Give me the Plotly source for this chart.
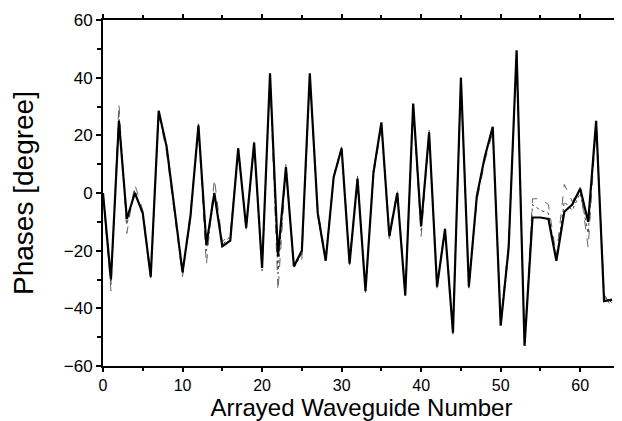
import plotly.graph_objects as go

waveguide = list(range(65))

phase_main = [0, -30, 25, -9, 0, -7, -29, 28.5, 16, -6,
              -27.5, -8, 23.5, -18, 0, -18.5, -16.5, 15.5, -12, 17.5,
              -26, 41.5, -22, 9, -25.5, -20, 41.5, -7, -23.5, 5.5,
              15.5, -24.5, 5, -34, 7, 24.5, -15, 0, -35.5, 31,
              -11.5, 21, -32.5, -12.5, -48.5, 40, -32.5, -1, 12.5, 23,
              -46, -19, 49.5, -53, -8.5, -8.5, -9, -23.5, -6.5, -4,
              1.5, -10, 25, -37.5, -37]

phase_alt1 = [0, -34, 31, -14, 3, -6, -28, 28, 14, -7,
              -29, -6, 22, -25, 5, -17, -14, 14, -11, 16,
              -25, 40, -34, 8, -24, -23, 40, -6, -22, 5,
              15, -23, 4, -33, 6, 23, -14, 1, -34, 30,
              -15, 20, -31, -13, -47, 39, -31, -3, 11, 21,
              -45, -17, 48, -52, -2, -2, -4, -22, 3, -3,
              2, -19, 24, -35, -40]

phase_alt2 = [-1, -32, 27, -11, 1, -8, -30, 27, 17, -5,
              -28, -9, 24, -20, -1, -18, -15, 16, -13, 18,
              -27, 41, -28, 10, -26, -21, 41, -8, -24, 6,
              16, -25, 6, -35, 8, 24, -16, 0, -36, 31,
              -13, 22, -33, -12, -49, 40, -33, -2, 13, 22,
              -46, -20, 49, -53, -4, -6, -7, -23, -3, -6,
              0, -14, 25, -36, -38]

fig = go.Figure()
fig.add_trace(go.Scatter(x=waveguide, y=phase_alt1, mode="lines",
                         line=dict(color="#666666", width=1, dash="dash"), showlegend=False))
fig.add_trace(go.Scatter(x=waveguide, y=phase_alt2, mode="lines",
                         line=dict(color="#444444", width=1, dash="dot"), showlegend=False))
fig.add_trace(go.Scatter(x=waveguide, y=phase_main, mode="lines",
                         line=dict(color="black", width=2.2), showlegend=False))

font_family = "Liberation Sans, Arial, sans-serif"

common = dict(tickmode="linear", tickwidth=1.5, tickcolor="black",
              showline=True, linewidth=2, linecolor="black", showgrid=False,
              zeroline=False, automargin=False, mirror="allticks")

# page body has an 8px margin, so the figure is sized/offset to land where the reference is
fig.update_layout(
    width=614, height=413,
    margin=dict(l=95, r=2, t=12, b=55),
    paper_bgcolor="white", plot_bgcolor="white",
    font=dict(family=font_family, color="black"),
    xaxis=dict(range=[0, 65], tick0=0, dtick=10, ticks="outside", ticklen=4,
               minor=dict(dtick=5, ticks="outside", ticklen=3, tickwidth=1.5, tickcolor="black"),
               tickfont=dict(size=16),
               title=dict(text="Arrayed Waveguide Number", font=dict(size=24), standoff=4),
               **common),
    yaxis=dict(range=[-60, 60], tick0=-60, dtick=20, ticks="outside", ticklen=5,
               minor=dict(dtick=10, ticks="outside", ticklen=4, tickwidth=1.5, tickcolor="black"),
               tickfont=dict(size=17),
               title=dict(text="Phases [degree]", font=dict(size=28), standoff=24),
               **common),
)

fig.write_html("out.html")
